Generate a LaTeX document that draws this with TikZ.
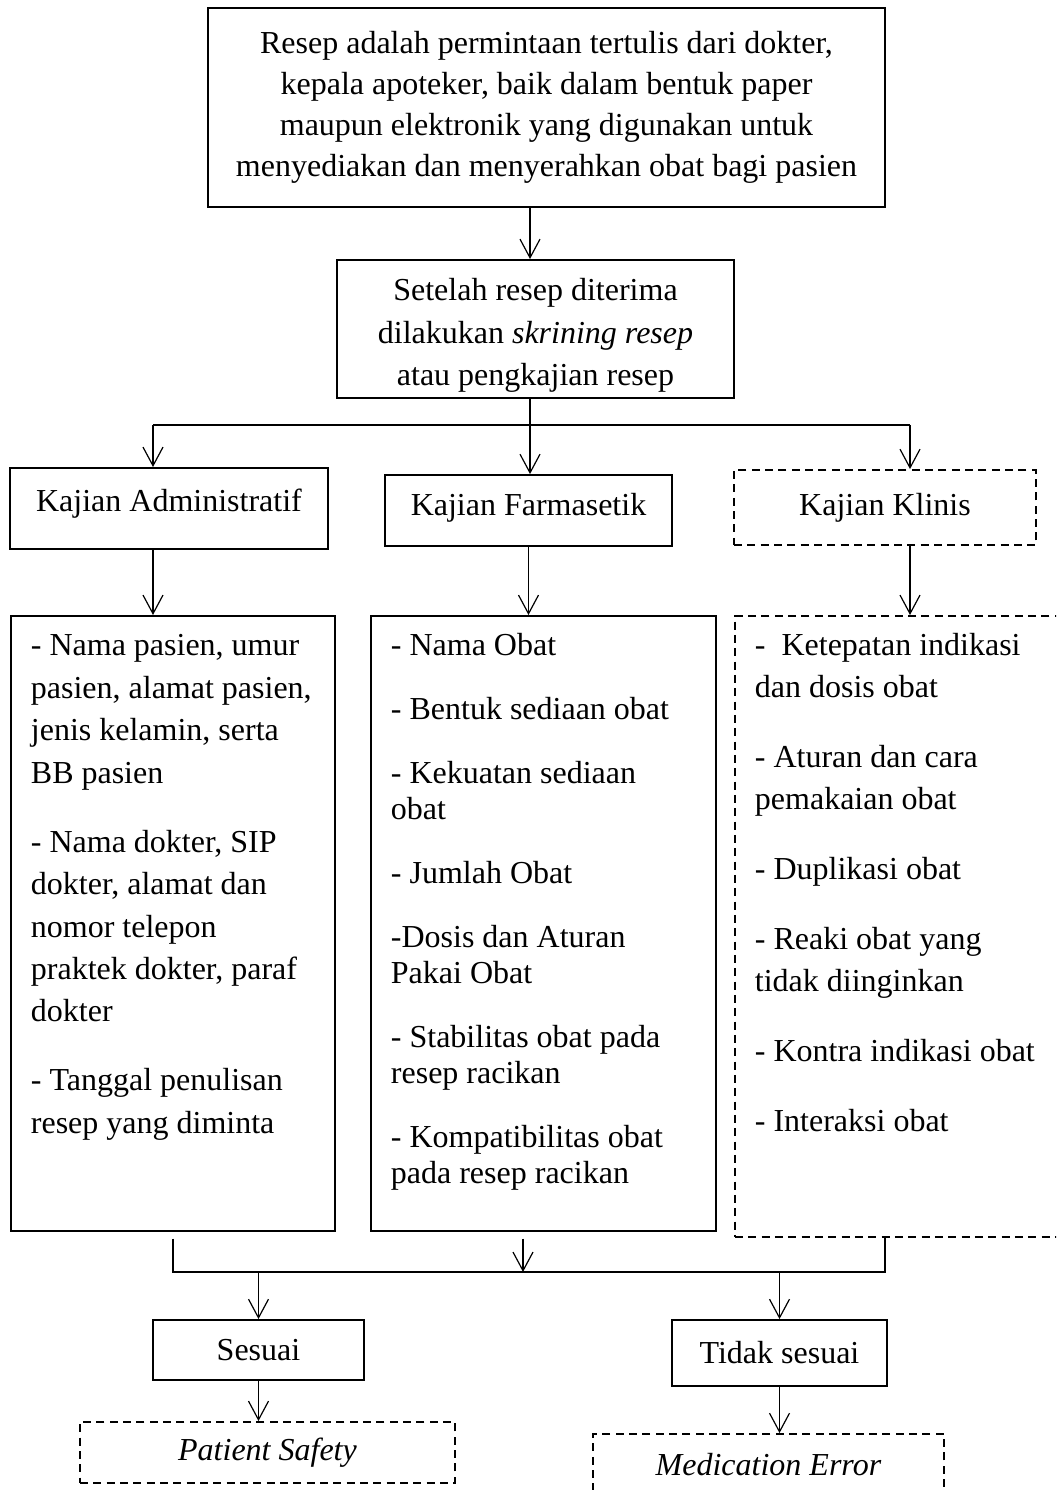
\documentclass[tikz,border=0pt]{standalone}
\usepackage{fontspec}
\setmainfont{Liberation Serif}
\usetikzlibrary{arrows.meta}

\begin{document}
\begin{tikzpicture}[
        x=0.375pt, y=-0.375pt,
        kotak/.style={shape=rectangle, draw=black, line width=0.7pt, align=flush center, inner sep=0pt, font=\fontsize{12}{16}\selectfont},
        kotakputus/.style={kotak, dash pattern=on 3pt off 2pt},
        daftar/.style={shape=rectangle, draw=black, line width=0.7pt, anchor=north west, align=flush left, inner sep=0pt, text height=15pt, execute at begin node={\leftskip=7.5pt}},
        panah/.style={line width=0.45pt, -{Straight Barb[length=7pt,width=7.5pt]}},
        garis/.style={line width=0.45pt},
    ]
    \useasboundingbox (0,0) rectangle (1056,1490);
    \clip (0,0) rectangle (1056,1490);

    \node[kotak, minimum width=253.9pt, minimum height=74.6pt, font=\fontsize{12}{15.4}\selectfont] (resep) at (546.5,107.5)
        {Resep adalah permintaan tertulis dari dokter,\\ kepala apoteker, baik dalam bentuk paper\\ maupun elektronik yang digunakan untuk\\ menyediakan dan menyerahkan obat bagi pasien};
    \node[kotak, minimum width=148.9pt, text height=47.25pt, text depth=4.5pt] (skrining) at (535.5,329)
        {Setelah resep diterima\\ dilakukan \textit{skrining resep}\\ atau pengkajian resep};

    \node[kotak, minimum width=119.25pt, text height=16.5pt, text depth=13.9pt] (admin) at (169,508.5) {Kajian Administratif};
    \node[kotak, minimum width=107.6pt, text height=15pt, text depth=11.6pt] (farm) at (528.5,510.5) {Kajian Farmasetik};
    \node[kotakputus, minimum width=113.25pt, minimum height=28.1pt] (klinis) at (885,507.5) {Kajian Klinis};

    \node[daftar, text width=121.5pt, text depth=215.6pt, font=\fontsize{12}{15.9}\selectfont] (adminlist) at (10,615)
        {- Nama pasien, umur\\ pasien, alamat pasien,\\ jenis kelamin, serta\\ BB pasien\\[10pt]
         - Nama dokter, SIP\\ dokter, alamat dan\\ nomor telepon\\ praktek dokter, paraf\\ dokter\\[10pt]
         - Tanggal penulisan\\ resep yang diminta};
    \node[daftar, text width=129.4pt, text depth=215.6pt, font=\fontsize{12}{13.5}\selectfont] (farmlist) at (370,615)
        {- Nama Obat\\[10.5pt]
         - Bentuk sediaan obat\\[10.5pt]
         - Kekuatan sediaan\\ obat\\[10.5pt]
         - Jumlah Obat\\[10.5pt]
         -Dosis dan Aturan\\ Pakai Obat\\[10.5pt]
         - Stabilitas obat pada\\ resep racikan\\[10.5pt]
         - Kompatibilitas obat\\ pada resep racikan};
    \node[daftar, text width=127.5pt, text depth=217.9pt, font=\fontsize{12}{15.75}\selectfont, dash pattern=on 3pt off 2pt] (kliniklist) at (734,615)
        {-~ Ketepatan indikasi\\ dan dosis obat\\[10.5pt]
         - Aturan dan cara\\ pemakaian obat\\[10.5pt]
         - Duplikasi obat\\[10.5pt]
         - Reaki obat yang\\ tidak diinginkan\\[10.5pt]
         - Kontra indikasi obat\\[10.5pt]
         - Interaksi obat};

    \node[kotak, minimum width=79.1pt, minimum height=22.5pt] (sesuai) at (258.5,1350) {Sesuai};
    \node[kotak, minimum width=80.6pt, minimum height=24.75pt] (tidak) at (779.5,1353) {Tidak sesuai};
    \node[kotakputus, minimum width=140.6pt, minimum height=22.9pt] (patient) at (267.5,1452.5) {\textit{Patient Safety}};
    \node[kotakputus, minimum width=131.6pt, minimum height=23.25pt] (medication) at (768.5,1465) {\textit{Medication Error}};

    % percabangan atas
    \coordinate (cabang) at (530,425);
    \coordinate (kiri) at (153,425);
    \coordinate (kanan) at (910,425);
    % percabangan bawah
    \coordinate (gabungkiri) at (173,1272);
    \coordinate (gabungtengah) at (523,1272);
    \coordinate (gabungkanan) at (885,1272);

    \draw[panah] (resep.south -| cabang) -- (skrining.north -| cabang);
    \draw[panah] (skrining.south -| cabang) -- (farm.north -| cabang);
    \draw[garis] (kiri) -- (kanan);
    \draw[panah] (kiri) -- (admin.north -| kiri);
    \draw[panah] (kanan) -- (klinis.north -| kanan);

    \draw[panah] (admin.south -| kiri) -- (adminlist.north -| kiri);
    \draw[panah] (farm.south) -- (farm.south |- farmlist.north);
    \draw[panah] (klinis.south -| kanan) -- (kliniklist.north -| kanan);

    \draw[garis, shorten <=2.6pt] (adminlist.south -| gabungkiri) -- (gabungkiri) -- (gabungkanan) -- (kliniklist.south -| gabungkanan);
    \draw[panah, shorten <=2.6pt] (farmlist.south -| gabungtengah) -- (gabungtengah);
    \draw[panah] (sesuai.north |- gabungkiri) -- (sesuai.north);
    \draw[panah] (tidak.north |- gabungkiri) -- (tidak.north);

    \draw[panah] (sesuai.south) -- (sesuai.south |- patient.north);
    \draw[panah] (tidak.south) -- (tidak.south |- medication.north);
\end{tikzpicture}
\end{document}
